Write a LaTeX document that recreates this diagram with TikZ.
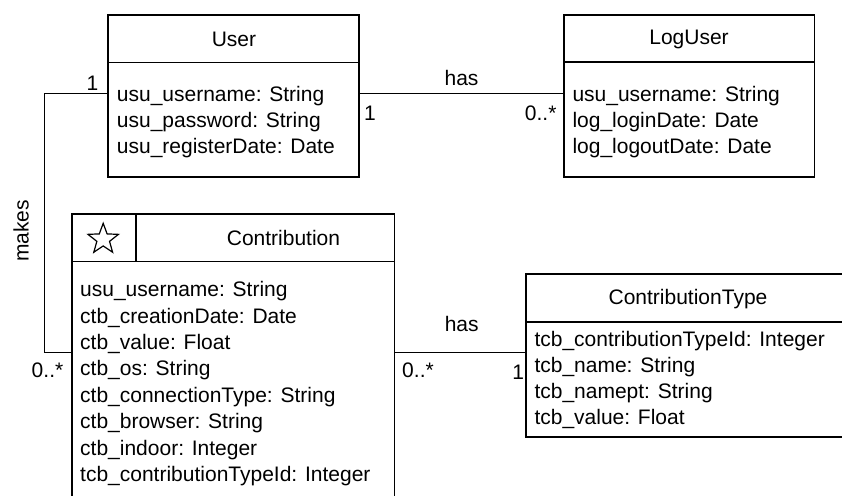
\documentclass[tikz,border=0pt]{standalone}
\usepackage{fontspec}
\setmainfont{Liberation Sans}
\usetikzlibrary{shapes.geometric}
\begin{document}
\begin{tikzpicture}[x=1pt,y=-1pt,
  box/.style={draw=black,line width=1.6pt,rectangle,inner sep=0pt,outer sep=0pt},
  sepline/.style={line width=1.6pt},
  conn/.style={line width=1pt},
  txt/.style={inner sep=0pt,anchor=base west,font=\fontsize{21}{26}\selectfont},
  ttl/.style={inner sep=0pt,anchor=base,font=\fontsize{21}{26}\selectfont},
  lbl/.style={inner sep=0pt,anchor=base,font=\fontsize{21}{26}\selectfont}]
\useasboundingbox (0,0) rectangle (842,495);
\clip (0,0) rectangle (842,495);

% class boxes
\node[box,minimum width=251pt,minimum height=162pt] (user) at (233.5,96) {};
\node[box,minimum width=250.5pt,minimum height=162.5pt] (loguser) at (689.25,96) {};
\node[box,minimum width=322.5pt,minimum height=286pt] (contrib) at (233.25,357) {};
\node[box,minimum width=320pt,minimum height=163pt] (ctype) at (686,355.5) {};

% separators
\coordinate (s1) at (0,62.5);
\coordinate (s2) at (0,62);
\coordinate (s3) at (0,261.5);
\coordinate (s4) at (0,322);
\coordinate (sd) at (136,0);
\draw[sepline] (user.west |- s1) -- (user.east |- s1);
\draw[sepline] (loguser.west |- s2) -- (loguser.east |- s2);
\draw[sepline] (contrib.west |- s3) -- (contrib.east |- s3);
\draw[sepline] (ctype.west |- s4) -- (ctype.east |- s4);
\draw[sepline] (sd |- contrib.north) -- (sd |- s3);

% star icon
\node[star,star points=5,star point ratio=2.4,draw,line width=1.2pt,minimum size=32pt,inner sep=0pt] (staricon) at (103.2,239.3) {};

% titles
\node[ttl] (usertitle) at (234,46) {User};
\node[ttl] (logtitle) at (689,45) {LogUser};
\node[ttl] (contribtitle) at (283.5,245.7) {Contribution};
\node[ttl] (ctypetitle) at (688,304) {ContributionType};

% attributes
\foreach \t [count=\i] in {usu\_username: String,usu\_password: String,usu\_registerDate: Date}
  \node[txt] (ua\i) at (116.7,101.7+\i*25.8-25.8) {\t};
\foreach \t [count=\i] in {usu\_username: String,log\_loginDate: Date,log\_logoutDate: Date}
  \node[txt] (la\i) at (572.3,101.7+\i*25.8-25.8) {\t};
\foreach \t [count=\i] in {usu\_username: String,ctb\_creationDate: Date,ctb\_value: Float,ctb\_os: String,ctb\_connectionType: String,ctb\_browser: String,ctb\_indoor: Integer,tcb\_contributionTypeId: Integer}
  \node[txt] (ca\i) at (80,296.7+\i*26.4-26.4) {\t};
\foreach \t [count=\i] in {tcb\_contributionTypeId: Integer,tcb\_name: String,tcb\_namept: String,tcb\_value: Float}
  \node[txt] (ta\i) at (534.3,346.7+\i*25.8-25.8) {\t};

% connectors
\coordinate (h1) at (0,93.5);
\coordinate (mk1) at (44,93.5);
\coordinate (mk2) at (44,352.5);
\draw[conn] (user.east |- h1) -- (loguser.west |- h1);
\draw[conn] (user.west |- mk1) -- (mk1) -- (mk2) -- (contrib.west |- mk2);
\draw[conn] (contrib.east |- mk2) -- (ctype.west |- mk2);

% connector labels
\node[lbl] (l1) at (92.5,90) {1};
\node[lbl] (l2) at (370,120) {1};
\node[lbl] (l3) at (461.5,85) {has};
\node[lbl] (l4) at (540.7,120) {0..*};
\node[lbl,anchor=center,rotate=90] (l5) at (21,231) {makes};
\node[lbl] (l6) at (47.5,377) {0..*};
\node[lbl] (l7) at (461.7,331) {has};
\node[lbl] (l8) at (418,377) {0..*};
\node[lbl] (l9) at (518.3,379) {1};
\end{tikzpicture}
\end{document}
